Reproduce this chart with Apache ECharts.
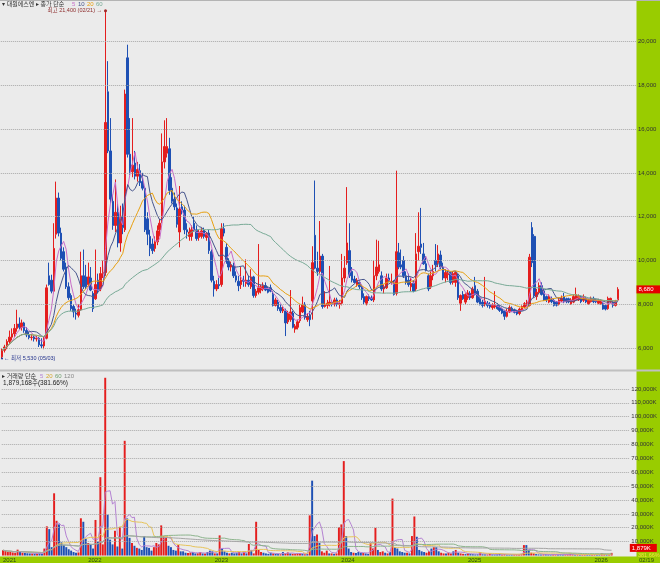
<!DOCTYPE html>
<html>
<head>
<meta charset="utf-8">
<script src="https://cdn.jsdelivr.net/npm/echarts@6/dist/echarts.min.js"></script>
<style>
  html, body { margin: 0; padding: 0; background: #ebebeb; }
  #chart { width: 660px; height: 563px; }
</style>
</head>
<body>
<div id="chart"></div>
<script>
// 주봉, 2021-05-03 주부터
const startMonday = '2021-05-03';

const opens = [
  5600,5900,6050,6300,6500,6650,6900,7100,6950,7150,
  6800,6600,6480,6500,6420,6450,6150,6100,6450,9300,
  9100,8600,11200,12850,11250,10400,9700,8800,8400,7900,
  7600,7500,7750,9300,9250,8900,9200,8500,8250,9100,
  8700,9400,9450,17700,15000,12700,11600,12200,10800,12000,
  11400,19250,14850,14050,14450,13850,14100,13600,13300,11900,
  11100,10750,10550,10850,11400,12000,14500,14900,15100,13300,
  12800,12400,11300,12450,12300,11400,11100,11100,11700,11400,
  11050,11100,11350,11050,11250,10400,9050,8700,8900,8900,
  11450,10600,9950,9700,9750,9300,9050,8900,9100,8950,
  9100,8800,9250,8400,8550,8650,8700,8850,8700,8750,
  8450,7950,8100,7850,7700,7700,7200,7300,7600,6870,
  6950,7250,7650,8000,7300,7500,8150,11150,9650,9500,
  10200,7900,7950,8000,8100,8000,8200,8000,8050,9200,
  9900,10450,9500,9150,8900,9000,8800,8350,8050,8350,
  8300,8200,9300,9500,9300,8700,8750,9200,9000,9000,
  8500,10350,9800,10000,9300,9100,8800,8950,8700,10400,
  10750,10300,9850,9300,8800,9300,10000,9900,10250,9700,
  9200,9350,9400,9000,9000,9300,8050,8450,8100,8300,
  8500,8300,8850,8600,8250,8100,7980,8050,8000,7850,
  7880,7950,7850,7780,7700,7450,7650,7820,7750,7700,
  7580,7750,7880,7980,7950,11500,11100,8350,8550,8850,
  8600,8350,8100,8250,8180,8100,8000,8150,8350,8250,
  8250,8020,8100,8200,8200,8350,8180,8280,8030,8120,
  8270,8190,8050,8030,8030,7950,7800,8110,8110,7950,
  8190
];
const highs = [
  6000,6150,6400,6800,6900,7100,7750,7400,7300,7200,
  6950,6750,6650,6600,6550,6500,6450,6500,8900,9900,
  9350,11700,13600,13100,11500,10600,9900,9000,8500,8000,
  7800,8000,10400,10500,9800,9900,9700,8600,10500,9400,
  9700,10000,21400,19100,16500,13000,13700,12600,12500,12600,
  17800,19850,16500,16500,15000,14500,14400,14000,13400,12200,
  11400,11000,11100,11600,11900,15800,16400,16500,15600,13800,
  13100,12600,13400,12700,12500,11700,11500,11600,12000,11600,
  11400,11500,11500,11300,11400,10500,9300,9100,9200,11700,
  11700,10800,10100,9950,9900,9500,9300,9700,9300,10050,
  9300,9600,9300,8700,10750,8900,9000,9000,8800,8900,
  8600,8300,8200,8000,7900,7800,7700,8650,7700,7100,
  7300,8000,8350,8100,7600,7700,10650,13650,10400,11800,
  10300,8600,8200,9750,8200,8300,8300,8200,10300,10200,
  13350,11700,9700,9300,9200,9100,8900,8500,8400,8450,
  8400,10000,10950,10900,9500,8900,9400,9400,9400,9100,
  14100,10800,10500,10200,9500,9400,9200,9100,11250,12200,
  12400,10800,10200,9400,9500,9800,10750,10700,10450,9900,
  9600,9500,9500,9500,9500,9400,8450,8600,8500,8650,
  8600,8800,9250,8700,8350,8200,9250,8150,8100,8050,
  8600,8050,7950,7850,7750,7800,7950,7900,7800,7750,
  7850,7950,8100,8200,10300,11750,11200,8700,9000,9000,
  8700,8400,8450,8350,8250,8150,8300,8400,8520,8300,
  8300,8280,8450,8760,8450,8400,8450,8350,8250,8350,
  8350,8250,8250,8220,8100,8000,8350,8300,8150,8200,
  8780
];
const lows = [
  5530,5800,5950,6200,6350,6500,6750,6850,6800,6700,
  6500,6400,6350,6300,6300,6050,6000,5950,6400,8850,
  8500,8500,11000,11100,10000,9500,8700,8200,7700,7400,
  7300,7400,7700,8700,8700,8800,8600,7650,8200,8500,
  8600,9200,9300,14900,12600,11400,11300,10600,10400,11200,
  11300,14700,13900,13800,13700,13600,13400,13200,11300,10700,
  10200,10300,10400,10700,11100,11700,14200,14700,13000,12600,
  12300,11500,10600,12100,11200,11000,10900,10900,11300,10900,
  10900,11000,11000,10900,10300,9000,8350,8600,8700,8800,
  11100,9850,9550,9500,9200,9000,8600,8700,8800,8800,
  8800,8700,8300,8300,8450,8500,8600,8600,8500,8550,
  7900,7900,7700,7600,7600,6550,7100,7200,6900,6700,
  6850,7150,7600,7300,7200,7000,7300,9600,9300,9400,
  7800,7850,7800,7900,7900,7900,7900,7800,7950,9000,
  9800,9200,9000,8950,8800,8700,8200,8000,7950,8150,
  8150,8100,9100,9400,8600,8500,8700,9000,8900,8400,
  8400,9600,9600,9200,8900,8800,8600,8550,8600,10000,
  10300,9800,9500,8600,8700,9100,9500,9700,9600,9100,
  9000,9100,8900,8900,8800,8200,7700,8200,8000,8200,
  8200,8250,8400,8050,7950,7850,7900,7850,7800,7750,
  7800,7750,7650,7550,7290,7400,7600,7650,7580,7500,
  7500,7700,7820,7900,7900,9700,8300,8200,8450,8400,
  8150,8100,8050,8050,7900,7900,7950,8100,8050,8050,
  8050,7980,8050,8150,8150,8050,8100,8050,7980,8080,
  8050,8050,8000,7980,7750,7720,7750,8050,7850,7900,
  8150
];
const closes = [
  5900,6050,6300,6500,6650,6900,7100,6950,7150,6800,
  6600,6480,6500,6420,6450,6150,6100,6450,8750,8900,
  8600,10550,12850,11250,10100,9600,8800,8300,7800,7650,
  7550,7750,9300,8800,8800,9250,8650,7800,8900,8650,
  9400,9450,16300,15000,12800,11600,12200,10800,12000,11500,
  17600,14850,14050,14350,13850,14150,13550,13300,11400,11200,
  10550,10450,10850,11350,11700,14500,15200,15200,13200,12700,
  12450,11650,12350,12300,11400,11300,11300,11400,11400,11000,
  11300,11350,11100,11250,10450,9100,8700,8900,8850,11450,
  11250,9950,9700,9800,9300,9100,8850,9100,9050,9100,
  8900,9250,8400,8600,8750,8800,8850,8650,8550,8600,
  7950,8200,7800,7700,7780,7150,7600,7650,6950,7000,
  7200,7850,8000,7400,7450,7300,9900,9650,9500,10200,
  7900,8000,8050,8100,8000,8200,8000,8050,9200,9650,
  10800,9300,9100,9000,9100,8800,8300,8100,8350,8250,
  8200,9300,9700,9800,8700,8800,9200,9050,9050,8450,
  10400,9700,9700,9300,9000,8900,8950,8600,10300,10650,
  10600,9850,9550,8700,9300,9500,9800,10300,9700,9200,
  9450,9400,9000,9400,9450,8300,8400,8250,8450,8520,
  8300,8700,8450,8100,8000,7950,8150,7950,7880,7950,
  7980,7800,7720,7600,7450,7680,7850,7700,7630,7560,
  7780,7900,8030,8100,10150,9900,8400,8550,8850,8450,
  8200,8200,8350,8120,7950,7960,8200,8280,8120,8120,
  8110,8200,8350,8440,8360,8120,8350,8110,8180,8270,
  8120,8110,8190,8150,7780,7780,8270,8270,7950,8120,
  8680
];
// 거래량 (천주)
const volumes = [
  3800,3200,2500,2800,2200,1800,4200,2500,2000,1800,
  1600,1500,1400,1300,1200,1500,1300,5000,21000,19000,
  6000,44800,25000,22400,9500,7500,6000,4500,3500,2500,
  2000,2200,26800,24300,12000,9000,8000,5000,25600,10000,
  56400,8000,128000,29400,11400,8000,17800,6500,20400,5000,
  82600,26700,12700,9000,7000,5500,5000,4000,14000,6000,
  5500,3500,6000,9000,8000,21700,14000,13500,7000,6000,
  4000,3500,7500,3000,3000,2000,1800,2200,2500,1500,
  1600,2500,1500,1400,2500,3500,3000,1500,1500,14500,
  5000,3000,2000,1500,2000,1500,2000,2500,1500,3000,
  1500,8300,4000,1500,24300,4000,2500,2000,1500,1200,
  2000,1500,1200,1000,900,2500,1500,2200,1500,1200,
  1000,1500,1800,1200,900,1000,28900,53900,14000,15200,
  9000,3000,2000,3500,1500,1500,1200,1500,20400,22400,
  68000,14000,5000,2500,2000,1800,2500,2000,1800,1500,
  1200,8800,5000,19900,4000,2500,3000,2000,1500,2500,
  41000,6000,5000,3000,2500,2000,2000,1500,14000,28100,
  13500,4000,3000,2500,2000,3000,5000,6000,6000,3000,
  2000,1500,1500,2000,1500,3000,4000,2000,1500,1200,
  1000,1500,1200,1000,800,900,2500,900,800,700,
  1200,800,700,900,1200,800,1000,700,600,700,
  800,900,1000,1200,7500,7500,4000,2000,1500,1000,
  800,700,800,900,700,600,800,700,900,800,
  600,700,800,1200,800,700,800,700,600,700,
  800,700,600,900,1000,800,1500,900,700,492,
  1879
];

const maPeriods = [5, 10, 20, 60];
const maColors = ['#c86ec8', '#46558c', '#e8a010', '#78aa96'];
const volMaPeriods = [5, 20, 60, 120];
const volMaColors = ['#b482d2', '#e6c35a', '#8cb48c', '#a5a5a5'];
const priceTicks = [6000, 8000, 10000, 12000, 14000, 16000, 18000, 20000];
const volumeTicks = [10000, 20000, 30000, 40000, 50000, 60000, 70000, 80000, 90000, 100000, 110000, 120000];

const UP = '#e41e1e';
const DOWN = '#1e50b4';
const FONT = "'Liberation Sans', 'Noto Sans CJK KR', sans-serif";

// 주 날짜
const weeks = [];
const t0 = new Date(startMonday + 'T00:00:00Z').getTime();
for (let i = 0; i < closes.length; i++) {
  weeks.push(new Date(t0 + i * 7 * 86400000).toISOString().slice(0, 10));
}
const padCount = 7;
const categories = weeks.slice();
for (let i = 0; i < padCount; i++) categories.push('pad' + i);

// 연도 시작 주
const yearLabel = {};
let prevYear = null;
weeks.forEach((w, i) => {
  const fri = new Date(new Date(w + 'T00:00:00Z').getTime() + 4 * 86400000).getUTCFullYear();
  if (fri !== prevYear) yearLabel[i] = String(fri);
  prevYear = fri;
});

function sma(arr, n) {
  return arr.map((_, i) => {
    const from = Math.max(0, i - n + 1);
    let s = 0;
    for (let k = from; k <= i; k++) s += arr[k];
    return +(s / (i - from + 1)).toFixed(1);
  });
}

const candleData = opens.map((o, i) => [o, closes[i], lows[i], highs[i]]);
const volData = volumes.map((v, i) => ({
  value: v,
  itemStyle: { color: closes[i] >= opens[i] ? UP : DOWN }
}));

const last = closes.length - 1;
const fmt = v => v.toLocaleString('en-US');
const dotted = { type: 'dotted', color: '#a8a8a8', width: 1 };
const hidden = { color: 'rgba(0,0,0,0)', width: 0 };

const chart = echarts.init(document.getElementById('chart'), null, { renderer: 'canvas' });

const series = [
  {
    type: 'line', xAxisIndex: 0, yAxisIndex: 0, data: [], z: 1, silent: true,
    markLine: {
      symbol: ['none', 'none'], silent: true, animation: false,
      label: { show: false },
      lineStyle: dotted,
      data: priceTicks.map(v => ({ yAxis: v }))
    }
  },
  {
    type: 'line', xAxisIndex: 1, yAxisIndex: 1, data: [], z: 1, silent: true,
    markLine: {
      symbol: ['none', 'none'], silent: true, animation: false,
      label: { show: false },
      lineStyle: dotted,
      data: volumeTicks.map(v => ({ yAxis: v }))
    }
  },
  {
    type: 'candlestick', xAxisIndex: 0, yAxisIndex: 0,
    data: candleData, barWidth: '82%',
    itemStyle: { color: UP, color0: DOWN, borderColor: UP, borderColor0: DOWN, borderWidth: 1 },
    markPoint: {
      silent: true, animation: false,
      data: [
        {
          coord: [42, highs[42]], symbol: 'circle', symbolSize: 3,
          itemStyle: { color: '#a02828' },
          label: { show: true, position: 'left', distance: 2, formatter: '최고 21,400 (02/21) →',
            color: '#8c2a2a', fontSize: 5.5, fontFamily: FONT }
        },
        {
          coord: [0, lows[0]], symbol: 'circle', symbolSize: 2,
          itemStyle: { color: '#23328c' },
          label: { show: true, position: 'right', distance: 1, formatter: '← 최저 5,530 (05/03)',
            color: '#23328c', fontSize: 5.5, fontFamily: FONT }
        }
      ]
    },
    markLine: {
      symbol: ['none', 'none'], silent: true, animation: false,
      lineStyle: hidden,
      data: [{
        yAxis: closes[last],
        label: { show: true, position: 'end', distance: 0, formatter: fmt(closes[last]),
          backgroundColor: '#e60000', color: '#fff', fontSize: 6, fontFamily: FONT, padding: [1, 8, 1, 2] }
      }]
    }
  }
];

maPeriods.forEach((p, k) => {
  series.push({
    type: 'line', xAxisIndex: 0, yAxisIndex: 0, data: sma(closes, p),
    symbol: 'none', lineStyle: { width: 1, color: maColors[k] }, silent: true, z: 3
  });
});

series.push({
  type: 'bar', xAxisIndex: 1, yAxisIndex: 1, data: volData, barWidth: '80%',
  markLine: {
    symbol: ['none', 'none'], silent: true, animation: false,
    lineStyle: hidden,
    data: [{
      yAxis: volumes[last],
      label: { show: true, position: 'end', distance: 0, offset: [0, -5], formatter: '1,879K',
        backgroundColor: '#e60000', color: '#fff', fontSize: 6, fontFamily: FONT, padding: [1, 6, 1, 2] }
    }]
  }
});

volMaPeriods.forEach((p, k) => {
  series.push({
    type: 'line', xAxisIndex: 1, yAxisIndex: 1, data: sma(volumes, p),
    symbol: 'none', lineStyle: { width: 1, color: volMaColors[k] }, silent: true, z: 3
  });
});

const axisLabelBase = { fontSize: 6, color: '#333', fontFamily: FONT, align: 'left', margin: 1.5 };

chart.setOption({
  animation: false,
  backgroundColor: '#ebebeb',
  grid: [
    { left: 0.8, top: 2, width: 635.7, height: 368 },
    { left: 0.8, top: 375, width: 635.7, height: 181.5 }
  ],
  xAxis: [
    { type: 'category', gridIndex: 0, data: categories, boundaryGap: true,
      axisLine: { show: false }, axisTick: { show: false }, axisLabel: { show: false }, splitLine: { show: false } },
    { type: 'category', gridIndex: 1, data: categories, boundaryGap: true,
      axisLine: { show: false }, axisTick: { show: false }, splitLine: { show: false },
      axisLabel: { show: true, interval: 0, hideOverlap: false, align: 'left', margin: 1.5,
        fontSize: 6, color: '#2a4a10', fontFamily: FONT,
        formatter: (v, i) => yearLabel[i] || '' } }
  ],
  yAxis: [
    { type: 'value', gridIndex: 0, position: 'right', min: 5000, max: 21800, interval: 1000,
      axisLine: { show: false }, axisTick: { show: false }, splitLine: { show: false },
      axisLabel: Object.assign({}, axisLabelBase, {
        formatter: v => priceTicks.includes(v) ? fmt(v) : '' }) },
    { type: 'value', gridIndex: 1, position: 'right', min: 0, max: 130000, interval: 10000,
      axisLine: { show: false }, axisTick: { show: false }, splitLine: { show: false },
      axisLabel: Object.assign({}, axisLabelBase, {
        formatter: v => volumeTicks.includes(v) ? fmt(v) + 'K' : '' }) }
  ],
  graphic: [
    { type: 'rect', z: -10, shape: { x: 636.5, y: 0, width: 24, height: 563 }, style: { fill: '#99cc00' } },
    { type: 'rect', z: -10, shape: { x: 0, y: 556.5, width: 637, height: 7 }, style: { fill: '#99cc00' } },
    { type: 'line', z: -5, shape: { x1: 0, y1: 0.5, x2: 660, y2: 0.5 }, style: { stroke: '#b4b4b4', lineWidth: 1 } },
    { type: 'line', z: -5, shape: { x1: 0, y1: 370.5, x2: 660, y2: 370.5 }, style: { stroke: '#c0c0c0', lineWidth: 2 } },
    { type: 'text', left: 2, top: 1, style: { text: '▾ 대원에스엔 ▸ 종가 단순', fill: '#333', font: '6px ' + FONT } },
    { type: 'text', left: 72, top: 1, style: { text: '5', fill: '#c86ec8', font: '6px ' + FONT } },
    { type: 'text', left: 78, top: 1, style: { text: '10', fill: '#46558c', font: '6px ' + FONT } },
    { type: 'text', left: 87, top: 1, style: { text: '20', fill: '#e8a010', font: '6px ' + FONT } },
    { type: 'text', left: 96, top: 1, style: { text: '60', fill: '#78aa96', font: '6px ' + FONT } },
    { type: 'text', left: 2, top: 373, style: { text: '▸ 거래량 단순', fill: '#333', font: '6px ' + FONT } },
    { type: 'text', left: 40, top: 373, style: { text: '5', fill: '#b482d2', font: '6px ' + FONT } },
    { type: 'text', left: 46, top: 373, style: { text: '20', fill: '#d4a830', font: '6px ' + FONT } },
    { type: 'text', left: 55, top: 373, style: { text: '60', fill: '#6f9f6f', font: '6px ' + FONT } },
    { type: 'text', left: 64, top: 373, style: { text: '120', fill: '#888', font: '6px ' + FONT } },
    { type: 'text', left: 3, top: 380, style: { text: '1,879,168주(381.66%)', fill: '#222', font: '6.5px ' + FONT } },
    { type: 'text', left: 638, top: 553, style: { text: '381.66%', fill: '#f0e040', font: '5.5px ' + FONT } },
    { type: 'text', left: 639, top: 557, style: { text: '02/19', fill: '#2a4a10', font: '6px ' + FONT } }
  ],
  series: series
});
</script>
</body>
</html>
